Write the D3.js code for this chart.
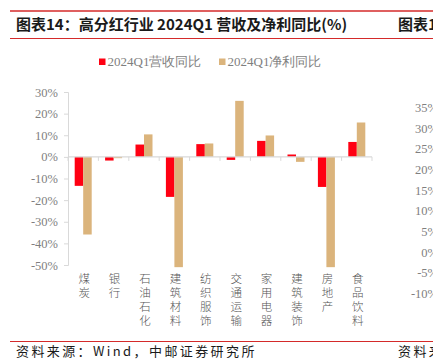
<!DOCTYPE html>
<html>
<head>
<meta charset="utf-8">
<script src="https://cdn.jsdelivr.net/npm/d3@7"></script>
<style>
  body { margin: 0; background: #fff; }
  svg { display: block; }
</style>
</head>
<body>
<div id="chart"></div>
<script>
// data
var categories = ["煤炭", "银行", "石油石化", "建筑材料", "纺织服饰", "交通运输", "家用电器", "建筑装饰", "房地产", "食品饮料"];
var seriesNames = ["2024Q1营收同比", "2024Q1净利同比"];
var revenueYoY = [-13.4, -1.7, 5.7, -18.5, 5.9, -1.4, 7.4, 1.1, -13.9, 6.9];
var profitYoY = [-35.9, -0.6, 10.4, -51, 6.2, 25.9, 9.9, -2.3, -51, 15.9];
var yTicks = [30, 20, 10, 0, -10, -20, -30, -40, -50];
// neighbouring chart, cut off at the right edge
var nextTicks = [35, 30, 25, 20, 15, 10, 5, 0, -5, -10];

var w = 433, h = 364;
var colors = ["#ff0012", "#dbb47c"];
var cjk = "'Noto Sans CJK SC', sans-serif";
var serif = "'Liberation Serif', 'Times New Roman', serif";

var svg = d3.select("#chart").append("svg")
  .attr("width", w)
  .attr("height", h);

// header lines + title
svg.append("line").attr("x1", 10).attr("x2", w).attr("y1", 11).attr("y2", 11)
  .attr("stroke", "#d42a2a").attr("stroke-width", 1.5);
svg.append("line").attr("x1", 10).attr("x2", w).attr("y1", 38.5).attr("y2", 38.5)
  .attr("stroke", "#d42a2a").attr("stroke-width", 1);
svg.append("text").attr("x", 16).attr("y", 30)
  .attr("font-family", cjk).attr("font-weight", "bold").attr("font-size", 15)
  .attr("fill", "#1a1a1a")
  .text("图表14：高分红行业 2024Q1 营收及净利同比(%)");
svg.append("text").attr("x", 398).attr("y", 30)
  .attr("font-family", cjk).attr("font-weight", "bold").attr("font-size", 15)
  .attr("fill", "#1a1a1a")
  .text("图表15");

// footer
svg.append("line").attr("x1", 10).attr("x2", w).attr("y1", 341.5).attr("y2", 341.5)
  .attr("stroke", "#d42a2a").attr("stroke-width", 1);
svg.append("text").attr("x", 16).attr("y", 356)
  .attr("font-family", cjk).attr("font-size", 13).attr("letter-spacing", 2.4)
  .attr("fill", "#1a1a1a")
  .text("资料来源：Wind，中邮证券研究所");
svg.append("text").attr("x", 398).attr("y", 356)
  .attr("font-family", cjk).attr("font-size", 13).attr("letter-spacing", 2.4)
  .attr("fill", "#1a1a1a")
  .text("资料来源");

// scales
var x = d3.scaleBand()
  .domain(categories)
  .range([68, 372]);

var xs = d3.scaleBand()
  .domain(seriesNames)
  .range([0, 17]);

var y = d3.scaleLinear()
  .domain([-50, 30])
  .range([265, 92]);

// y axis
var gy = svg.append("g")
  .attr("transform", "translate(68,0)")
  .call(d3.axisLeft(y).tickValues(yTicks).tickSize(4).tickPadding(6)
    .tickFormat(function (d) { return d + "%"; }));
gy.selectAll("path, line").attr("stroke", "#d9d9d9");
gy.selectAll("text").attr("font-family", serif).attr("font-size", 12.5).attr("fill", "#7f7f7f");

// bars
var data = [revenueYoY, profitYoY];
data.forEach(function (vals, si) {
  svg.append("g").selectAll("rect")
    .data(vals)
    .enter()
    .append("rect")
    .attr("x", function (d, i) { return x(categories[i]) + (x.bandwidth() - 17) / 2 + xs(seriesNames[si]); })
    .attr("width", xs.bandwidth())
    .attr("y", function (d) { return y(Math.max(0, d)); })
    .attr("height", function (d) { return Math.abs(y(d) - y(0)); })
    .attr("fill", colors[si]);
});

// zero line with category ticks
var gx = svg.append("g")
  .attr("transform", "translate(0," + y(0) + ")");
gx.append("line").attr("x1", 68).attr("x2", 372).attr("stroke", "#d9d9d9").attr("stroke-width", 1.3);
gx.selectAll("line.tick")
  .data(categories.concat(["end"]))
  .enter()
  .append("line")
  .attr("class", "tick")
  .attr("x1", function (d, i) { return i < categories.length ? x(d) : 372; })
  .attr("x2", function (d, i) { return i < categories.length ? x(d) : 372; })
  .attr("y1", 0).attr("y2", 4)
  .attr("stroke", "#d9d9d9");

// vertical category labels
svg.append("g").selectAll("text")
  .data(categories)
  .enter()
  .append("text")
  .attr("x", function (d) { return x(d) + x.bandwidth() / 2 + 1; })
  .attr("y", 273)
  .style("writing-mode", "vertical-rl")
  .style("text-orientation", "upright")
  .attr("letter-spacing", 2.5)
  .attr("font-family", cjk).attr("font-size", 11.5).attr("font-weight", 300)
  .attr("fill", "#555")
  .text(function (d) { return d; });

// legend
var legendX = [99, 219];
seriesNames.forEach(function (s, i) {
  svg.append("rect").attr("x", legendX[i]).attr("y", 58.5).attr("width", 6.5).attr("height", 6.5)
    .attr("fill", colors[i]);
  svg.append("text").attr("x", legendX[i] + 8.5).attr("y", 66)
    .attr("font-family", serif).attr("font-size", 13).attr("fill", "#7f7f7f")
    .text(s);
});

// right neighbouring chart axis labels (cut off)
var yNext = d3.scaleLinear().domain([-10, 35]).range([294, 108]);
svg.append("g").selectAll("text")
  .data(nextTicks)
  .enter()
  .append("text")
  .attr("x", 438)
  .attr("y", function (d) { return yNext(d) + 4; })
  .attr("text-anchor", "end")
  .attr("font-family", serif).attr("font-size", 12.5).attr("fill", "#7f7f7f")
  .text(function (d) { return d + "%"; });
</script>
</body>
</html>
